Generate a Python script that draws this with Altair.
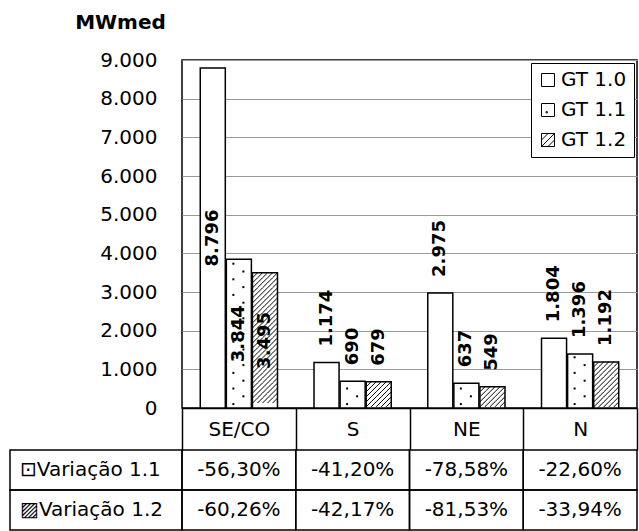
import altair as alt
import pandas as pd

# ---------------- data ----------------
regions = ["SE/CO", "S", "NE", "N"]
series = ["GT 1.0", "GT 1.1", "GT 1.2"]
gt10 = [8796, 1174, 2975, 1804]
gt11 = [3844, 690, 637, 1396]
gt12 = [3495, 679, 549, 1192]
var11 = [-0.5630, -0.4120, -0.7858, -0.2260]
var12 = [-0.6026, -0.4217, -0.8153, -0.3394]
row_labels = ["⊡Variação 1.1", "▨Variação 1.2"]
y_ticks = [0, 1000, 2000, 3000, 4000, 5000, 6000, 7000, 8000, 9000]
y_title = "MWmed"

# ---------------- layout / style ----------------
FONT = "DejaVu Sans"
PLOT_W, PLOT_H = 455, 348
TABLE_H = 80
HEADER_H = 42
LABEL_COL = 172
Y_MAX = 9000
PAD_IN, PAD_OUT = 0.04, 0.7

band = PLOT_W / len(regions)
off_step = band / (len(series) - PAD_IN + 2 * PAD_OUT)
bar_w = off_step * (1 - PAD_IN)
px_per_unit = PLOT_H / Y_MAX

values_by_series = {"GT 1.0": gt10, "GT 1.1": gt11, "GT 1.2": gt12}
bars_df = pd.DataFrame(
    [{"region": r, "series": s, "value": values_by_series[s][i]}
     for s in series for i, r in enumerate(regions)]
)

# pattern rows (derived from the values)
DOT_PX = 7.8
dot_mw = DOT_PX / px_per_unit
margin_mw = 3 / px_per_unit
dot_rows = []
for i, r in enumerate(regions):
    v = gt11[i]
    k = 0
    while (k + 0.5) * dot_mw + margin_mw < v:
        dot_rows.append({"region": r, "series": "GT 1.1", "value": (k + 0.5) * dot_mw, "par": k % 2})
        k += 1
dots_df = pd.DataFrame(dot_rows)

hatch_mw = (bar_w / 5) / px_per_unit
hatch_rows = []
for i, r in enumerate(regions):
    v = gt12[i]
    for k in range(int(v // hatch_mw)):
        hatch_rows.append({"region": r, "series": "GT 1.2", "value": v - (k + 0.5) * hatch_mw})
hatch_df = pd.DataFrame(hatch_rows)

sq = "M-1,-1H1V1H-1Z"
dot_left = "M-0.52,-0.08h0.16v0.16h-0.16Z"
dot_right = "M0.28,-0.08h0.16v0.16h-0.16Z"
hatch_row = " ".join(
    f"M{-1 + 0.4 * j:.2f},0.2L{-0.6 + 0.4 * j:.2f},-0.2" for j in range(5)
)
legend_shapes = [
    sq,
    sq + " M-0.3,0.25h0.2v0.2h-0.2Z",
    sq + " M-1,0L0,-1 M-1,1L1,-1 M0,1L1,0",
]

# ---------------- encodings ----------------
x_scale = alt.Scale(domain=regions, paddingInner=0, paddingOuter=0)
xo_scale = alt.Scale(domain=series, paddingInner=PAD_IN, paddingOuter=PAD_OUT)
y_scale = alt.Scale(domain=[0, Y_MAX], nice=False)

x_axis = alt.Axis(
    title=None, labelAngle=0, labelFontSize=20, labelColor="black",
    tickBand="extent", tickSize=HEADER_H, tickColor="black", tickWidth=1.5,
    domain=True, domainColor="black", domainWidth=1.5, labelPadding=-31, grid=False,
)
y_axis = alt.Axis(
    values=y_ticks, format=",.0f", title=y_title, titleAngle=0, titleX=-62, titleY=-38,
    titleAlign="center", titleBaseline="middle", titleFontSize=20, titleFontWeight="bold",
    titleColor="black", labelFontSize=20, labelColor="black", labelPadding=25,
    ticks=False, domain=False, grid=True, gridColor="#9a9a9a", gridWidth=1,
)

x_enc = alt.X("region:N", scale=x_scale, sort=regions, axis=x_axis)
xo_enc = alt.XOffset("series:N", scale=xo_scale, sort=series)
y_enc = alt.Y("value:Q", scale=y_scale, axis=y_axis)

base = alt.Chart(bars_df)

bars = base.mark_bar(fill="white", stroke="black", strokeWidth=1.5).encode(
    x=x_enc, xOffset=xo_enc, y=y_enc
)

legend_layer = base.mark_point(size=0, color="black").encode(
    x=x_enc, xOffset=xo_enc, y=y_enc,
    shape=alt.Shape(
        "series:N", sort=series,
        scale=alt.Scale(domain=series, range=legend_shapes),
        legend=alt.Legend(
            title=None, orient="top-right", offset=3, strokeColor="black",
            fillColor="white", padding=7, rowPadding=10, labelFontSize=20,
            labelColor="black", symbolSize=169, symbolStrokeColor="black",
            symbolFillColor="white", symbolStrokeWidth=1, labelOffset=3,
            symbolOpacity=1,
        ),
    ),
)

dots_even = alt.Chart(dots_df).transform_filter("datum.par == 0").mark_point(
    shape=dot_left, size=bar_w ** 2, filled=True, color="black", opacity=1
).encode(x=x_enc, xOffset=xo_enc, y=y_enc)
dots_odd = alt.Chart(dots_df).transform_filter("datum.par == 1").mark_point(
    shape=dot_right, size=bar_w ** 2, filled=True, color="black", opacity=1
).encode(x=x_enc, xOffset=xo_enc, y=y_enc)

hatch = alt.Chart(hatch_df).mark_point(
    shape=hatch_row, size=bar_w ** 2, filled=False, color="black", strokeWidth=1, opacity=1
).encode(x=x_enc, xOffset=xo_enc, y=y_enc)

labels_out = base.transform_filter(f"datum.region != '{regions[0]}'").mark_text(
    angle=270, align="left", baseline="middle", dx=16, fontSize=18,
    fontWeight="bold", color="black",
).encode(x=x_enc, xOffset=xo_enc, y=y_enc, text=alt.Text("value:Q", format=",.0f"))

labels_in = base.transform_filter(f"datum.region == '{regions[0]}'").transform_calculate(
    mid="datum.value / 2"
).mark_text(
    angle=270, align="center", baseline="middle", fontSize=18,
    fontWeight="bold", color="black",
).encode(
    x=x_enc, xOffset=xo_enc,
    y=alt.Y("mid:Q", scale=y_scale, axis=y_axis),
    text=alt.Text("value:Q", format=",.0f"),
)

plot_layer = alt.layer(bars, dots_even, dots_odd, hatch, labels_out, labels_in, legend_layer)

# ---------------- table (below the header row) ----------------
table_df = pd.DataFrame(
    [{"region": r, "row": row_labels[0], "val": var11[i]} for i, r in enumerate(regions)]
    + [{"region": r, "row": row_labels[1], "val": var12[i]} for i, r in enumerate(regions)]
)
rows_df = pd.DataFrame({"row": row_labels})

row_scale = alt.Scale(
    domain=row_labels, paddingInner=0, paddingOuter=0,
    range=[PLOT_H + HEADER_H, PLOT_H + HEADER_H + TABLE_H],
)
row_enc = alt.Y("row:N", sort=row_labels, scale=row_scale, axis=None)

cells_val = alt.Chart(table_df).mark_rect(
    fillOpacity=0, stroke="black", strokeWidth=1.5
).encode(x=x_enc, y=row_enc)
cells_lab = alt.Chart(rows_df).mark_rect(
    fillOpacity=0, stroke="black", strokeWidth=1.5
).encode(x=alt.value(-LABEL_COL), x2=alt.value(0), y=row_enc)
t_vals = alt.Chart(table_df).mark_text(fontSize=20, color="black").encode(
    x=x_enc, y=row_enc, text=alt.Text("val:Q", format=".2%")
)
t_labs = alt.Chart(rows_df).mark_text(fontSize=20, color="black", align="left").encode(
    x=alt.value(-LABEL_COL + 10), y=row_enc, text="row:N"
)
table_layer = alt.layer(cells_val, cells_lab, t_vals, t_labs)

chart = (
    alt.layer(plot_layer, table_layer)
    .resolve_scale(y="independent")
    .properties(
        width=PLOT_W, height=PLOT_H,
        padding={"left": 9, "top": 12, "right": 1, "bottom": 0},
    )
    .configure(
        font=FONT,
        locale={"number": {"decimal": ",", "thousands": ".", "grouping": [3],
                           "currency": ["R$", ""], "minus": "-", "percent": "%"}},
    )
    .configure_view(stroke="black", strokeWidth=1.5)
)

chart.save("out.html", embed_options={"renderer": "svg", "actions": False})
